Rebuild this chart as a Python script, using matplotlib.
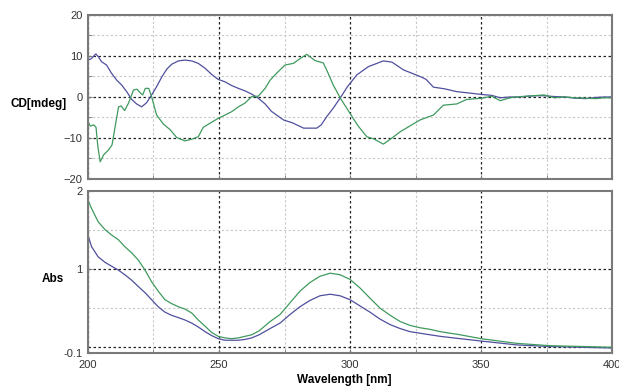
import matplotlib.pyplot as plt
import numpy as np

plt.rcParams['font.family'] = ['Liberation Sans', 'DejaVu Sans']

# CD spectra (mdeg)
cd_wl_a = [200, 201.4, 203, 204, 205.2, 207.1, 209, 211, 212.9, 214.8, 216.7, 218.6, 220.5,
           222.4, 224.3, 226.2, 228.2, 230.1, 232, 234.5, 237, 239.6, 242.1, 244.7, 247.2,
           249.7, 252.3, 254.8, 257.4, 259.9, 262.5, 265, 267.6, 270, 274.6, 278, 282.3,
           287.3, 289, 291.1, 293.5, 296.2, 299, 302.6, 307, 312.7, 316, 320.4, 326.7, 329,
           331.8, 336, 340.7, 345, 350.3, 354, 357.3, 361, 365, 368, 371, 374, 378, 382, 386,
           390, 394, 397, 400]
cd_a = [8.9, 9.4, 10.5, 9.8, 8.6, 7.8, 5.8, 4.1, 2.9, 1.3, -0.6, -1.7, -2.4,
        -1.4, 0.5, 2.5, 4.9, 6.8, 8.0, 8.8, 9.0, 8.8, 8.2, 7.0, 5.5,
        4.3, 3.7, 2.8, 2.1, 1.5, 0.7, -0.3, -1.7, -3.5, -5.6, -6.3, -7.6,
        -7.6, -6.8, -4.8, -2.8, -0.3, 2.5, 5.4, 7.4, 8.8, 8.5, 6.6, 5.0, 4.3,
        2.4, 2.0, 1.3, 1.0, 0.6, 0.4, -0.2, 0.0, 0.0, 0.2, 0.3, 0.3, 0.1, 0.0, -0.3,
        -0.4, -0.1, 0.0, 0.0]
cd_wl_b = [200, 200.9, 202.2, 203.1, 203.8, 204.7, 206, 207.9, 209.2, 210.4, 211.7, 212.7,
           214, 215.5, 217.4, 218.7, 220, 220.9, 221.9, 223.2, 224.3, 226.2, 228.8, 231.4,
           233.9, 237, 239.6, 242.1, 244, 246.6, 249.7, 252.3, 254.8, 257.4, 259.9, 262.5,
           265, 267.6, 269.5, 272, 275.2, 278.4, 281, 283.5, 286.6, 289.8, 291.5, 293.6,
           296.5, 300, 303, 306.4, 309, 312.7, 316, 319.1, 323, 326.7, 331.8, 335.6, 340.7,
           344.5, 350.3, 354, 357.3, 361, 365, 370, 374, 378, 382, 386, 390, 394, 397, 400]
cd_b = [-6.0, -7.1, -6.8, -7.4, -12.1, -15.8, -14.1, -12.9, -11.7, -7.2, -2.4, -2.2,
        -3.3, -1.5, 1.7, 1.9, 1.0, 0.5, 2.1, 2.1, 0.1, -4.4, -6.6, -8.0,
        -9.9, -10.7, -10.3, -9.7, -7.4, -6.4, -5.2, -4.4, -3.6, -2.4, -1.5, 0.1,
        0.2, 2.1, 4.1, 5.8, 7.8, 8.2, 9.4, 10.4, 8.9, 8.3, 6.0, 2.9,
        -0.5, -4.0, -7.0, -9.7, -10.2, -11.5, -10.0, -8.5, -7.0, -5.6, -4.4, -2.0, -1.7,
        -0.6, -0.3, 0.2, -0.9, -0.2, 0.1, 0.3, 0.5, -0.2, 0.0, -0.2, -0.3, -0.4, -0.2, -0.2]

# absorbance spectra
abs_wl = [200, 201.4, 203.9, 206.5, 209, 211.6, 214.1, 216.7, 219.2, 221.8, 224.3, 226.8,
          229.4, 231.9, 234.5, 237, 239.6, 242.1, 244.7, 247.2, 249.7, 252.3, 254.8, 257.4,
          259.9, 262.5, 265.3, 269.5, 273.3, 277.1, 280.9, 284.7, 288.5, 292.4, 296.2, 300,
          303.8, 307.6, 311.5, 315.3, 319.1, 322.9, 326.7, 330.5, 334.4, 342, 350, 363.6,
          376.3, 400]
abs_a = [1.44, 1.29, 1.16, 1.09, 1.04, 0.99, 0.93, 0.86, 0.78, 0.70, 0.61, 0.52,
         0.45, 0.41, 0.38, 0.35, 0.31, 0.26, 0.20, 0.15, 0.11, 0.09, 0.09, 0.09,
         0.10, 0.12, 0.16, 0.24, 0.31, 0.42, 0.52, 0.60, 0.66, 0.68, 0.66, 0.61,
         0.53, 0.45, 0.36, 0.29, 0.24, 0.20, 0.18, 0.16, 0.14, 0.11, 0.08, 0.03,
         0.01, -0.01]
abs_b = [1.89, 1.78, 1.61, 1.51, 1.44, 1.38, 1.29, 1.21, 1.12, 0.99, 0.84, 0.72,
         0.61, 0.56, 0.52, 0.49, 0.44, 0.35, 0.27, 0.19, 0.14, 0.12, 0.11, 0.12,
         0.14, 0.16, 0.21, 0.33, 0.42, 0.57, 0.72, 0.83, 0.91, 0.95, 0.93, 0.87,
         0.76, 0.63, 0.50, 0.41, 0.33, 0.28, 0.25, 0.23, 0.20, 0.16, 0.11, 0.05,
         0.02, 0.0]

blue = '#4f4f9e'
green = '#3f9a5e'
spine = '#7a7a7a'

fig = plt.figure(figsize=(6.19, 3.86), dpi=100)
ax1 = fig.add_axes([0.142, 0.5363, 0.847, 0.4249])
ax2 = fig.add_axes([0.142, 0.0842, 0.847, 0.4202])

ax1.plot(cd_wl_a, cd_a, color=blue, lw=0.9)
ax1.plot(cd_wl_b, cd_b, color=green, lw=0.9)
ax2.plot(abs_wl, abs_a, color=blue, lw=0.9)
ax2.plot(abs_wl, abs_b, color=green, lw=0.9)

ax1.set_ylim(-20, 20)
ax1.set_yticks([-20, -10, 0, 10, 20])
ax1.set_yticks([-15, -5, 5, 15], minor=True)
ax2.set_ylim(-0.08, 2)
ax2.set_yticks([-0.08, 1, 2])
ax2.set_yticklabels(['-0.1', '1', '2'])

for ax in (ax1, ax2):
    ax.set_xlim(200, 400)
    ax.set_xticks([200, 250, 300, 350, 400])
    ax.set_xticks([225, 275, 325, 375], minor=True)
    for s in ax.spines.values():
        s.set_color(spine)
        s.set_linewidth(1.5)
    ax.tick_params(which='both', direction='in', length=3, color=spine, labelsize=8,
                   labelcolor='#333333', pad=4)
    ax.grid(which='minor', color='#c8c8c8', linestyle=(0, (2, 2)), lw=0.8)
    ax.set_axisbelow(True)

ax1.tick_params(labelbottom=False)
ax1.grid(which='major', axis='y', color='#222222', linestyle=(0, (2, 2)), lw=0.9)
ax1.grid(which='major', axis='x', color='#222222', linestyle=(0, (2, 2)), lw=0.9)
ax2.grid(which='major', axis='x', color='#222222', linestyle=(0, (2, 2)), lw=0.9)
for yv in (0, 1):
    ax2.axhline(yv, color='#222222', linestyle=(0, (2, 2)), lw=0.9, zorder=0.5)
for yv in (0.5, 1.5):
    ax2.axhline(yv, color='#c8c8c8', linestyle=(0, (2, 2)), lw=0.8, zorder=0.5)
ax2.tick_params(axis='x', pad=5)

fig.text(0.063, 0.73, 'CD[mdeg]', fontsize=8.5, fontweight='bold', ha='center', va='center')
fig.text(0.086, 0.277, 'Abs', fontsize=8.5, fontweight='bold', ha='center', va='center')
fig.text(0.556, 0.016, 'Wavelength [nm]', fontsize=8.5, fontweight='bold', ha='center', va='center')

fig.savefig('out.png', dpi=100)
